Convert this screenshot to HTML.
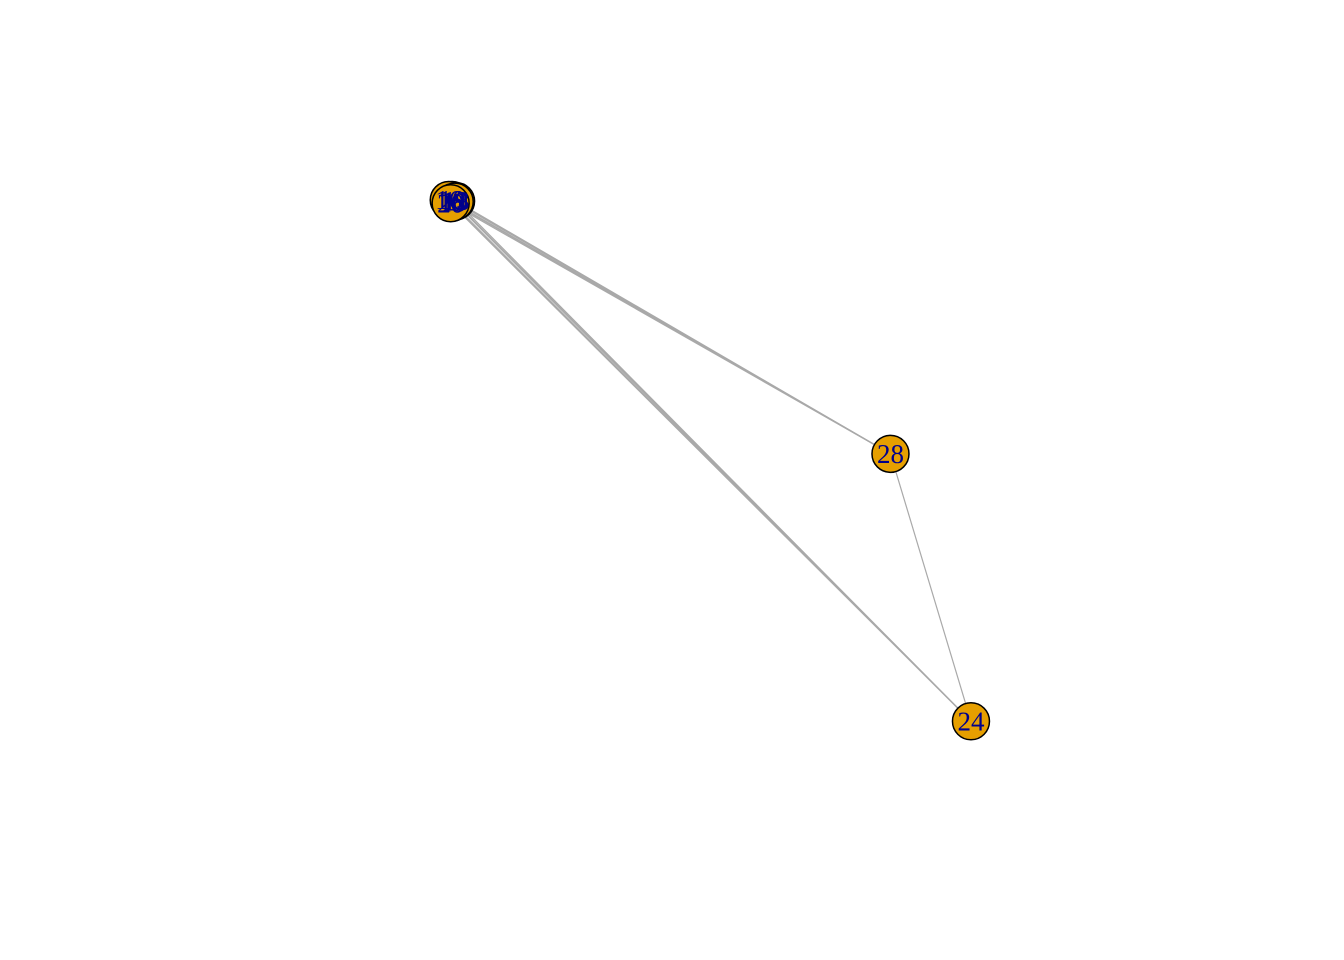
<!DOCTYPE html>
<html><head><meta charset="utf-8"><style>
html,body{margin:0;padding:0;background:#fff;}
svg{display:block;}
</style></head><body>
<svg id="net" width="1344" height="960" viewBox="0 0 1344 960" xmlns="http://www.w3.org/2000/svg">
<rect width="1344" height="960" fill="#fff"/>
<g id="edges"></g>
<g id="nodes"></g>
</svg>
<script>
// layout coordinates (-1..1)
const nodeLabels = ["10","13","16","18","19","20","28","24"];
const nodeX = [-1.0, -0.985, -1.012, -1.0, -0.99, -1.005, 0.618, 0.915];
const nodeY = [1.0, 0.996, 1.0, 0.99, 0.994, 0.988, 0.065, -0.92];
const edgeFrom = [0,1,2,3,4,5,0,1,2,3,4,5,6];
const edgeTo   = [6,6,6,6,6,6,7,7,7,7,7,7,7];

const xMin=-1, xMax=1, yMin=-1, yMax=1;
const pxL=452, pxR=994, pyT=200, pyB=743;
function sx(v){return pxL+(v-xMin)/(xMax-xMin)*(pxR-pxL);}
function sy(v){return pyT+(yMax-v)/(yMax-yMin)*(pyB-pyT);}

const NS="http://www.w3.org/2000/svg";
const eg=document.getElementById('edges'), ng=document.getElementById('nodes');
for(let i=0;i<edgeFrom.length;i++){
  const a=edgeFrom[i], b=edgeTo[i];
  const l=document.createElementNS(NS,'line');
  
  
  l.setAttribute('x1',sx(nodeX[a]));l.setAttribute('y1',sy(nodeY[a]));
  l.setAttribute('x2',sx(nodeX[b]));l.setAttribute('y2',sy(nodeY[b]));
  l.setAttribute('stroke','#a9a9a9');l.setAttribute('stroke-width','1.2');
  eg.appendChild(l);
}
for(let i=0;i<nodeLabels.length;i++){
  const g=document.createElementNS(NS,'g');
  
  
  const c=document.createElementNS(NS,'circle');
  
  
  c.setAttribute('cx',sx(nodeX[i]));c.setAttribute('cy',sy(nodeY[i]));
  c.setAttribute('r',18.5);c.setAttribute('fill','#e69f00');
  c.setAttribute('stroke','#000');c.setAttribute('stroke-width','1.5');
  g.appendChild(c);
  ng.appendChild(g);
}
for(let i=0;i<nodeLabels.length;i++){
  const t=document.createElementNS(NS,'text');
  
  
  t.setAttribute('x',sx(nodeX[i]));t.setAttribute('y',sy(nodeY[i])+9);
  t.setAttribute('text-anchor','middle');
  t.setAttribute('font-family','"Liberation Serif", serif');
  t.setAttribute('font-size','27');t.setAttribute('fill','#00008b');
  t.textContent=nodeLabels[i];
  ng.appendChild(t);
}
</script>
</body></html>
